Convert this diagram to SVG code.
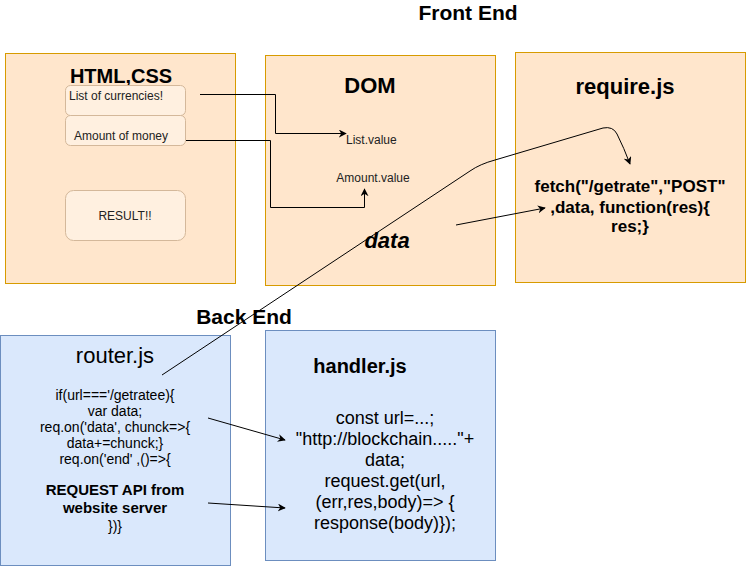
<svg xmlns="http://www.w3.org/2000/svg" width="746" height="566" viewBox="0 0 746 566">
<defs>
<style>
text{font-family:"Liberation Sans",Arial,sans-serif;fill:#000}
.fe{fill:#ffe6cc;stroke:#d79b00;stroke-width:1}
.be{fill:#dae8fc;stroke:#6c8ebf;stroke-width:1}
.in{fill:#fff0e0;stroke:#d4b89a;stroke-width:1}
.t20b{font-size:20px;font-weight:bold}
.t22b{font-size:22px;font-weight:bold}
.t12{font-size:12px;fill:#222}
.c{text-anchor:middle}
.ln{fill:none;stroke:#000;stroke-width:1}
</style>
<marker id="ah" viewBox="0 0 10 10" refX="9" refY="5" markerWidth="8" markerHeight="8" orient="auto" markerUnits="userSpaceOnUse">
<path d="M0,0 L10,5 L0,10 L3,5 Z" fill="#000"/>
</marker>
</defs>
<rect width="746" height="566" fill="#fff"/>
<text class="c" x="468" y="20" font-size="21" font-weight="bold">Front End</text>
<text class="c" x="244" y="324" font-size="21" font-weight="bold">Back End</text>
<g id="html">
<rect class="fe" x="5.5" y="53.5" width="230" height="230"/>
<text class="t20b c" x="121" y="83">HTML,CSS</text>
<rect class="in" x="65.5" y="85.5" width="120" height="30" rx="5"/>
<text class="t12" x="69" y="100">List of currencies!</text>
<rect class="in" x="65.5" y="115.5" width="120" height="30" rx="5"/>
<text class="t12 c" x="121" y="140">Amount of money</text>
<rect class="in" x="65.5" y="190.5" width="120" height="50" rx="8"/>
<text class="t12 c" x="125" y="220">RESULT!!</text>
</g>
<g id="dom">
<rect class="fe" x="265.5" y="55.5" width="230" height="230"/>
<text class="t22b c" x="370" y="93">DOM</text>
<text class="t12" x="346" y="144">List.value</text>
<text class="t12 c" x="373" y="182">Amount.value</text>
<text class="c" x="387" y="248" font-size="22" font-weight="bold" font-style="italic">data</text>
</g>
<g id="require">
<rect class="fe" x="515.5" y="52.5" width="230" height="230"/>
<text class="t22b c" x="625" y="94">require.js</text>
<text class="c" x="630" y="192" font-size="17" font-weight="bold">fetch("/getrate","POST"</text>
<text class="c" x="630" y="213" font-size="17" font-weight="bold">,data, function(res){</text>
<text class="c" x="630" y="232" font-size="17" font-weight="bold">res;}</text>
</g>
<g id="router">
<rect class="be" x="0.5" y="335.5" width="230" height="230"/>
<text class="c" x="115" y="363" font-size="22">router.js</text>
<g font-size="14" text-anchor="middle">
<text x="115" y="400">if(url==='/getratee){</text>
<text x="115" y="416">var data;</text>
<text x="115" y="432">req.on('data', chunck=&gt;{</text>
<text x="115" y="448">data+=chunck;}</text>
<text x="115" y="464">req.on('end' ,()=&gt;{</text>
<text x="115" y="495" font-size="15" font-weight="bold">REQUEST API from</text>
<text x="115" y="513" font-size="15" font-weight="bold">website server</text>
<text x="115" y="531">})}</text>
</g>
</g>
<g id="handler">
<rect class="be" x="265.5" y="330.5" width="230" height="230"/>
<text class="t20b c" x="360" y="373">handler.js</text>
<g font-size="18" text-anchor="middle">
<text x="385" y="424">const url=...;</text>
<text x="385" y="445">"http://blockchain....."+</text>
<text x="385" y="466">data;</text>
<text x="385" y="487">request.get(url,</text>
<text x="385" y="508">(err,res,body)=&gt; {</text>
<text x="385" y="529">response(body)});</text>
</g>
</g>
<g id="connectors">
<path class="ln" d="M200,94.5 H275.5 V133.5 H346" marker-end="url(#ah)"/>
<path class="ln" d="M186,140.5 H270.5 V207.5 H364.5 V189" marker-end="url(#ah)"/>
<path class="ln" d="M162,375 L470,171 Q480,164 495,160 L603,128 Q613,126 617,134 Q624,148 630,164" marker-end="url(#ah)"/>
<path class="ln" d="M456,225 L545,208" marker-end="url(#ah)"/>
<path class="ln" d="M208,418 L285,440" marker-end="url(#ah)"/>
<path class="ln" d="M208,503 L285,508" marker-end="url(#ah)"/>
</g>
</svg>
